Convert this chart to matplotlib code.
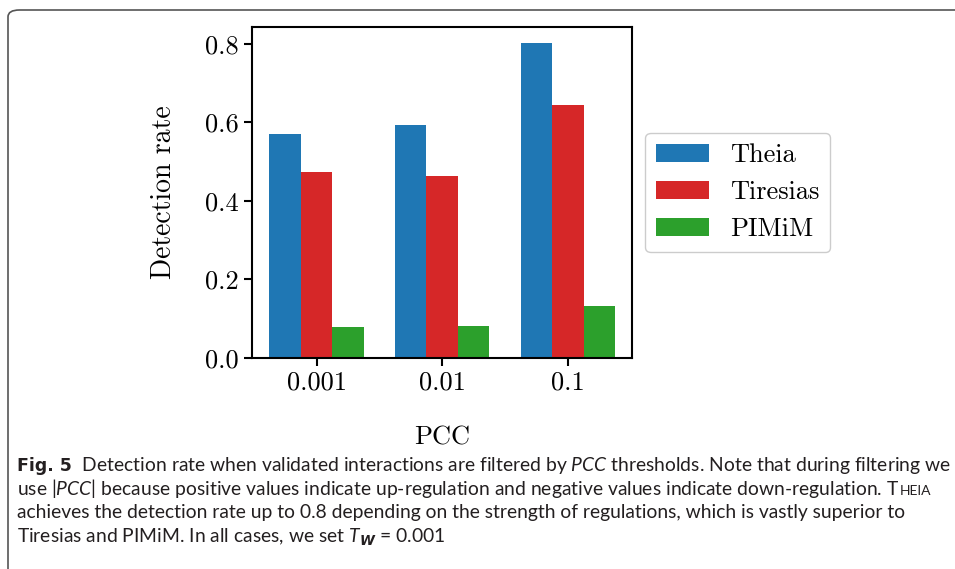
import numpy as np
import matplotlib
matplotlib.use("Agg")
import matplotlib.pyplot as plt
from matplotlib.patches import FancyBboxPatch

# --- Data ---
thresholds = ["0.001", "0.01", "0.1"]
methods = ["Theia", "Tiresias", "PIMiM"]
theia = [0.571, 0.594, 0.803]
tiresias = [0.474, 0.464, 0.645]
pimim = [0.079, 0.082, 0.132]
colors = ["#1f77b4", "#d62728", "#2ca02c"]

plt.rcParams["font.family"] = "serif"
plt.rcParams["font.serif"] = ["cmr10"]
plt.rcParams["axes.unicode_minus"] = False
# caption math (italic runs) uses the sans caption font
plt.rcParams["mathtext.fontset"] = "custom"
plt.rcParams["mathtext.rm"] = "Lato"
plt.rcParams["mathtext.it"] = "Lato:italic"
plt.rcParams["mathtext.bf"] = "DejaVu Sans:bold"
plt.rcParams["mathtext.bfit"] = "DejaVu Sans:italic:bold"

fig = plt.figure(figsize=(9.55, 5.69), dpi=100)
ax = fig.add_axes([0.264, 0.371, 0.398, 0.5815])

x = np.arange(len(thresholds))
width = 0.25
for i, (vals, name) in enumerate(zip([theia, tiresias, pimim], methods)):
    ax.bar(x + (i - 1) * width, vals, width, color=colors[i], label=name)

ax.set_xticks(x)
ax.set_xticklabels(thresholds)
ax.set_yticks([0.0, 0.2, 0.4, 0.6, 0.8])
ax.set_yticklabels(["0.0", "0.2", "0.4", "0.6", "0.8"])
ax.set_ylim(0, 0.843)
ax.tick_params(labelsize=19, width=1.5, length=6)
for s in ax.spines.values():
    s.set_linewidth(1.5)
ax.set_xlabel("PCC", fontsize=19, labelpad=22)
ax.set_ylabel("Detection rate", fontsize=20, labelpad=20)

ax.legend(loc="center left", bbox_to_anchor=(1.0, 0.5), fontsize=19,
          frameon=True, edgecolor="#cccccc", framealpha=1)

# --- Caption panel ---
border = FancyBboxPatch((8 / 955, -20 / 569), 980 / 955, (569 - 10 + 20) / 569,
                        boxstyle="round,pad=0,rounding_size=0.012",
                        transform=fig.transFigure, fill=False,
                        edgecolor="#555555", linewidth=1.2, clip_on=False)
fig.patches.append(border)

cap = dict(fontsize=13.9, family="Lato", color="#231f20",
           transform=fig.transFigure, va="baseline", ha="left")
x0 = 17 / 955
ys = [1 - 471 / 569, 1 - 495 / 569, 1 - 518 / 569, 1 - 542 / 569]
r = fig.canvas.get_renderer()


def right_of(t):
    return t.get_window_extent(renderer=r).x1 / fig.bbox.width


t = fig.text(x0, ys[0], "Fig. 5", **dict(cap, family="DejaVu Sans", fontweight="bold", fontsize=12.5))
fig.text(right_of(t), ys[0], r"  Detection rate when validated interactions are filtered by "
         r"$\mathit{PCC}$ thresholds. Note that during filtering we", **cap)
t = fig.text(x0, ys[1], r"use |$\mathit{PCC}$| because positive values indicate up-regulation "
             r"and negative values indicate down-regulation. T", **cap)
fig.text(right_of(t), ys[1], "HEIA", **dict(cap, fontsize=10))
fig.text(x0, ys[2], "achieves the detection rate up to 0.8 depending on the strength of regulations, "
         "which is vastly superior to", **cap)
fig.text(x0, ys[3], r"Tiresias and PIMiM. In all cases, we set $\mathit{T}_{\mathbfit{W}}$ = 0.001", **cap)

fig.savefig("out.png", dpi=100)
